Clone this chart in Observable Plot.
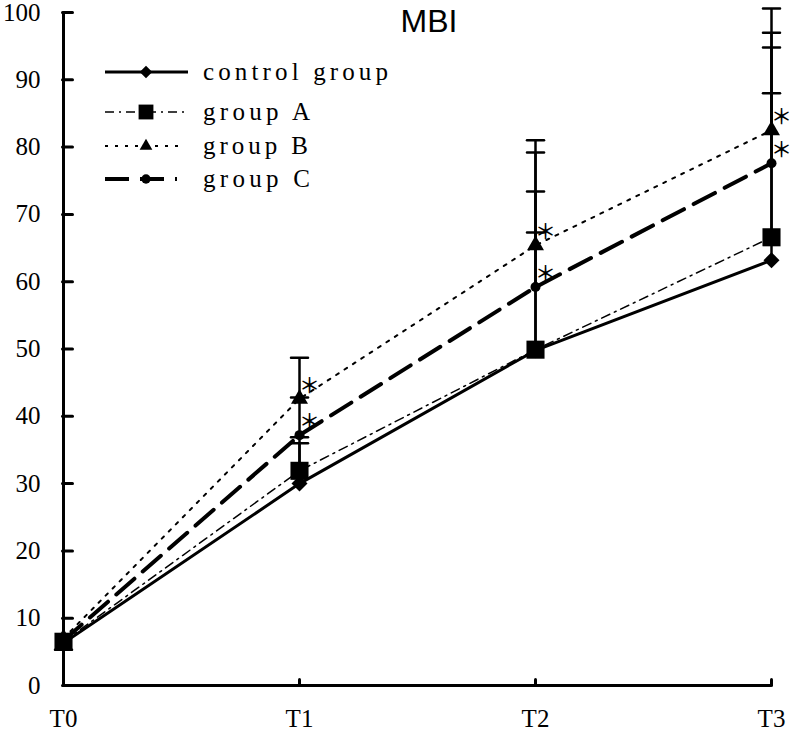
<!DOCTYPE html>
<html><head><meta charset="utf-8">
<script src="https://cdn.jsdelivr.net/npm/d3@7"></script>
<script src="https://cdn.jsdelivr.net/npm/@observablehq/plot@0.6"></script>
<style>
html,body{margin:0;padding:0;background:#fff;}
#wrap{position:relative;width:792px;height:733px;}
#overlay{position:absolute;left:0;top:0;pointer-events:none;}
</style></head><body><div id="wrap"></div>
<script>
const title = "MBI";
const times = ["T0","T1","T2","T3"];
const groups = ["control group","group A","group B","group C"];
const control = [6.3, 30.0, 49.8, 63.2];
const groupA  = [6.5, 31.9, 49.9, 66.6];
const groupB  = [7.0, 42.6, 65.4, 82.5];
const groupC  = [6.7, 37.2, 59.2, 77.6];
// error bar end values (T0 control bar points down)
const errControl = [5.3, 36.0, 67.3, 88.0];
const errA = [null, 36.9, 73.4, 94.8];
const errB = [null, 48.7, 81.0, 100.6];
const errC = [null, 42.8, 79.2, 97.0];
// significance marks (*) for groups B and C
const starTimesB = ["T1","T2","T3"];
const starTimesC = ["T1","T2","T3"];
const yTicks = [0,10,20,30,40,50,60,70,80,90,100];

const series = [control, groupA, groupB, groupC];
const errs = [errControl, errA, errB, errC];
const styles = [
  {sw: 3,   dash: null,      symbol: "diamond2", r: 7.2, lsym: d3.symbolDiamond2, lsize: 100, tl: 185},
  {sw: 1.5, dash: "9,5,2,5", symbol: "square",   r: 10.2, lsym: d3.symbolSquare, lsize: 220, tl: 107},
  {sw: 2,   dash: "3,7",     symbol: "triangle", r: 6.3, lsym: d3.symbolTriangle, lsize: 70, tl: 105},
  {sw: 4,   dash: "24,11",   symbol: "circle",   r: 5,   lsym: d3.symbolCircle, lsize: 70, tl: 107}
];
const data = groups.flatMap((g, i) => times.map((t, j) => ({group: g, gi: i, time: t, value: series[i][j], err: errs[i][j]})));
const stars = [
  ...starTimesB.map(t => ({time: t, value: groupB[times.indexOf(t)]})),
  ...starTimesC.map(t => ({time: t, value: groupC[times.indexOf(t)]}))
];
const lineShape = {draw(ctx, l) { ctx.moveTo(0, 0); ctx.lineTo(0, -l); }};

const marks = [
  Plot.ruleY([0], {stroke: "black", strokeWidth: 3}),
  Plot.ruleX([times[0]], {y1: 0, y2: 100, stroke: "black", strokeWidth: 3}),
  Plot.vector(yTicks, {y: d => d, frameAnchor: "left", rotate: 90, length: 10, anchor: "start", shape: lineShape, stroke: "black", strokeWidth: 3}),
  Plot.vector(times.slice(1), {x: d => d, frameAnchor: "bottom", rotate: 0, length: 6, anchor: "start", shape: lineShape, stroke: "black", strokeWidth: 3}),
];
styles.forEach((s, i) => {
  const d = data.filter(r => r.gi === i);
  marks.push(Plot.line(d, {x: "time", y: "value", stroke: "black", strokeWidth: s.sw, strokeDasharray: s.dash}));
});
const ed = data.filter(r => r.err != null);
marks.push(Plot.ruleX(ed, {x: "time", y1: "value", y2: "err", stroke: "black", strokeWidth: 2.5}));
marks.push(Plot.vector(ed, {x: "time", y: "err", rotate: 90, length: 17, anchor: "middle", shape: lineShape, stroke: "black", strokeWidth: 2.5}));
styles.forEach((s, i) => {
  const d = data.filter(r => r.gi === i);
  marks.push(Plot.dot(d, {x: "time", y: "value", symbol: () => s.symbol, r: s.r, fill: "black", stroke: "none"}));
});
marks.push(Plot.text(stars, {x: "time", y: "value", text: () => "＊", dx: 10, dy: -13, fontSize: 21, fontFamily: "Noto Sans CJK SC", fontWeight: 500, textAnchor: "middle", fill: "black"}));

const chart = Plot.plot({
  width: 792, height: 733,
  marginLeft: 62, marginRight: 21, marginTop: 12, marginBottom: 48,
  style: {fontFamily: "Liberation Serif", fontSize: "25px", background: "white", color: "black"},
  x: {type: "point", domain: times, padding: 0, tickSize: 0, tickPadding: 24, label: null},
  y: {domain: [0, 100], ticks: yTicks, tickSize: 0, tickPadding: 22, label: null},
  marks
});
document.getElementById("wrap").appendChild(chart);

// legend + title overlay
const ov = d3.select("#wrap").append("svg").attr("id", "overlay").attr("width", 792).attr("height", 733);
ov.append("text").attr("x", 429).attr("y", 32).attr("text-anchor", "middle")
  .attr("font-family", "Liberation Sans").attr("font-size", 32).text(title);
const rowY = [72, 112, 146, 179];
const lineEnd = [188, 187, 178, 177];
groups.forEach((g, i) => {
  const s = styles[i];
  ov.append("line").attr("x1", 105).attr("x2", lineEnd[i]).attr("y1", rowY[i]).attr("y2", rowY[i])
    .attr("stroke", "black").attr("stroke-width", s.sw).attr("stroke-dasharray", s.dash);
  ov.append("path").attr("d", d3.symbol(s.lsym, s.lsize)()).attr("transform", `translate(146,${rowY[i]})`).attr("fill", "black");
  ov.append("text").attr("x", 203).attr("y", rowY[i] + 8).attr("font-family", "Liberation Serif")
    .attr("font-size", 25).attr("textLength", s.tl).attr("lengthAdjust", "spacing").text(g);
});
</script></body></html>
